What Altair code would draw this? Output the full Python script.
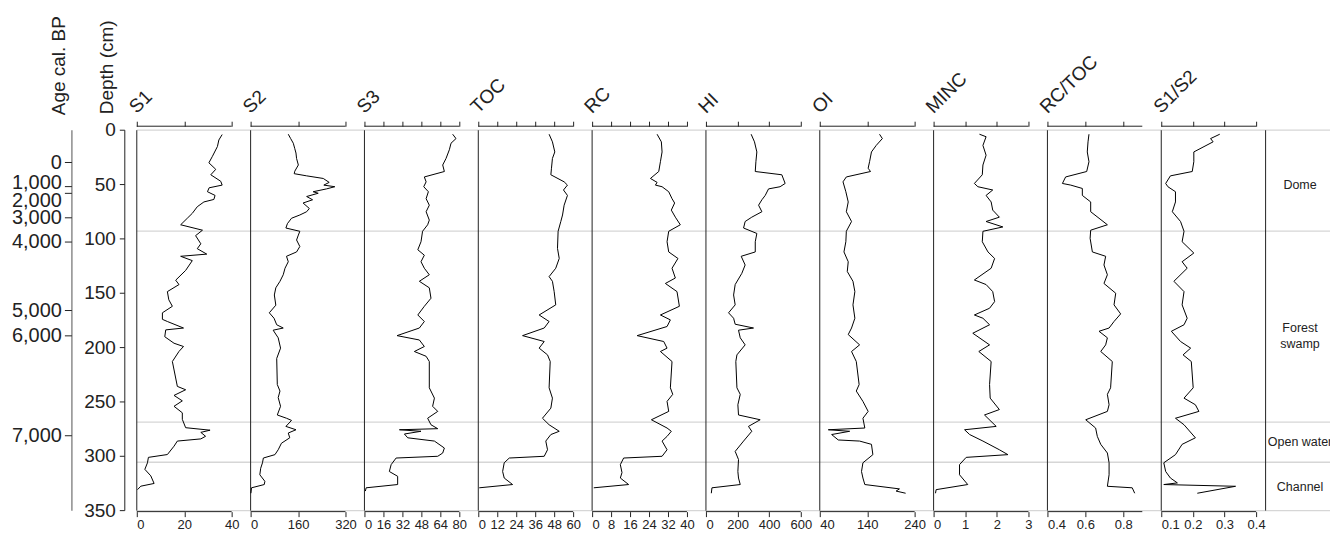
import altair as alt
import pandas as pd

# ---------------- core data: depth (cm) and Rock-Eval parameters ----------------
S1_depth = [4, 9, 15, 24, 30, 36, 41, 47, 50.5, 53, 56.6, 60, 63.7, 66, 70.4, 76.5, 81, 87, 92, 97,
            104.5, 109, 114, 116, 120, 129, 138, 142, 148.5, 156, 162, 168, 174, 176, 182, 183.7, 190, 196, 199, 203.5,
            212.8, 235.7, 238.8, 244, 249, 254, 260, 266, 273.7, 276, 278, 281.6, 284, 286, 290.7, 298.4, 301, 306, 312, 318,
            325, 327.5, 330.7]
S1_val = [36, 34.6, 34, 31.9, 30.4, 33.3, 31.2, 35.4, 36, 30.5, 29.8, 33, 32.5, 28.3, 25.5, 23.4, 21.3, 18.5, 27.7, 24.8,
          27, 25.5, 29.5, 18.5, 23.4, 20.6, 16.4, 17.8, 12.9, 13.5, 15, 10.8, 10.8, 12.9, 19.7, 12.2, 11.8, 15.7, 19.7, 17.8,
          15, 17.1, 20.6, 15.7, 19.2, 15.7, 19.2, 19.2, 20.6, 30.9, 27, 29, 27, 17.1, 15.7, 12.9, 4.9, 4.5, 3.4, 5.9,
          7.3, 1.7, 0.3]

S2_depth = [3.7, 7.7, 12, 17, 21, 26, 32, 37.7, 40, 42, 44.4, 48, 50.5, 52, 54, 56.6, 58, 61, 64, 67,
            72, 75, 78, 81, 86, 90, 93, 96.5, 101, 107, 112, 116, 121, 127, 133, 139, 145, 151.6, 161, 168,
            173, 179, 182, 184, 191, 200.5, 210, 234, 240, 246, 254, 262, 265, 267, 272.5, 275.6, 278.6, 283, 288, 294,
            298.5, 301.6, 306, 311, 317, 323, 326, 329, 334]
S2_val = [127, 135, 144, 149, 153, 155, 161, 149, 147, 189, 245, 265, 247, 284, 256, 211, 228, 189, 209, 177,
          198, 189, 166, 138, 124, 119, 166, 161, 155, 166, 155, 121, 127, 116, 110, 99, 85, 80, 85, 63,
          79, 88, 110, 76, 93, 101, 88, 90, 99, 93, 101, 90, 121, 138, 119, 153, 127, 132, 104, 93,
          82, 43, 40, 34, 31, 48, 46, 3, 1]

S3_depth = [3.7, 7.7, 12, 18, 26, 32, 38, 43, 47.5, 52, 56.6, 63, 69, 75, 82.7, 87, 93, 102.6, 110, 115,
            121, 127, 133, 139, 145, 154.6, 162, 170, 176, 182, 184.6, 189, 193, 199, 203.6, 208, 212.8, 237, 246.5, 254,
            258.7, 265, 271, 274.6, 275.6, 277, 279.5, 283, 286, 292.4, 297, 300, 301.6, 307.7, 314, 318.4, 326, 329, 332]
S3_val = [74.4, 77.2, 73, 71.6, 68.8, 66, 67.4, 50.5, 52, 50, 53.9, 52, 54.7, 52, 54.7, 53.3, 49, 47.7, 45, 50.5,
          47.7, 50.5, 54.7, 46.3, 54.7, 56.1, 50.5, 45, 50.5, 46.3, 39.3, 27.5, 46.3, 50.5, 42.1, 52, 54.7, 54.7, 59, 57.5,
          61.8, 53.3, 56.1, 61.8, 29.5, 47.7, 33.7, 36.5, 59, 67.4, 66, 61.8, 26.7, 22.5, 21, 28, 28, 1.4, 0.8]

TOC_depth = [3.7, 10.7, 20, 26, 35, 41, 47.5, 50.5, 55, 60, 69, 78, 84, 93, 108.7, 118, 127, 134.7, 139, 148.5,
             160.7, 170, 176, 182, 189, 194.4, 200.5, 206.7, 212.8, 237, 246.5, 255.7, 265, 271, 277, 280, 286, 294, 300, 301.6,
             306, 314, 320, 326, 329]
TOC_val = [44.8, 46.9, 48.4, 46.9, 46.3, 45.9, 54.3, 56.4, 53.9, 56.4, 54.3, 53.3, 52.2, 50.5, 50.1, 51.2, 49, 44.8, 46.9, 48,
           49, 38.5, 44.8, 41.7, 28, 41.7, 38.5, 43.8, 45.5, 44.8, 46.9, 45.9, 40.6, 44.8, 51.2, 45.9, 42.7, 43.8, 41.7, 19.6,
           16.4, 15.4, 16.4, 21.7, 0.6]

RC_depth = [3.7, 10.7, 20, 29, 38, 44.4, 48, 50.5, 52, 56.6, 63, 67, 73.5, 80, 87, 93, 102.6, 112, 118, 127,
            136, 141, 148.5, 162, 170, 174.5, 180.6, 189, 194.4, 200.5, 203.6, 212.8, 237, 243, 249.5, 258.7, 266.4, 274, 277, 281.7,
            286, 294, 300, 301.6, 307.7, 315, 320, 326, 329]
RC_val = [27.4, 29.2, 29.5, 28.8, 28.1, 24.6, 27.4, 26.7, 29.5, 32.3, 33.7, 34.8, 33.4, 35.1, 37.2, 32.3, 31.6, 32.3, 36.2, 33.7,
          35.1, 30.9, 35.8, 36.8, 28.8, 33, 31.6, 19, 30.2, 31.6, 28.8, 33.7, 33, 34, 31.6, 32.3, 25, 31.6, 33.4, 31.6,
          29.5, 31.6, 29.5, 13.3, 11.9, 12.6, 11.9, 15.4, 0.7]

HI_depth = [3.7, 10.7, 20, 29, 38, 41, 49, 52, 54, 60, 64, 69, 75, 80, 84, 90, 95, 102.6, 112, 116,
            124, 131.7, 142, 151.6, 160.7, 168, 173, 178.5, 182, 184, 191, 197.5, 206.7, 212.8, 237, 243, 252.6, 262, 266.4, 272.5,
            277, 286, 295.5, 303, 314, 320, 326, 329, 334]
HI_val = [286, 307, 322, 316, 312, 480, 501, 469, 396, 375, 354, 333, 354, 290, 248, 238, 322, 312, 312, 223,
          248, 227, 185, 175, 185, 143, 175, 185, 301, 206, 217, 248, 196, 189, 196, 217, 202, 206, 343, 269,
          290, 238, 185, 206, 202, 206, 217, 38, 34]

OI_depth = [3.7, 7.7, 14, 20, 29, 35, 38, 43, 47.5, 56.6, 66, 75, 84, 93, 102.6, 112, 121, 130, 139, 148.5,
            160.7, 173, 182, 188, 197.5, 203.6, 212.8, 234, 240, 249.5, 258.7, 265, 274, 275.6, 277, 280, 285, 286, 289, 298.5,
            306, 314, 320, 326, 330, 332, 334]
OI_val = [166, 172, 159, 149, 145, 142, 147, 96, 89, 95, 100, 96, 107, 96, 95, 91, 100, 98, 110, 114,
          110, 114, 107, 100, 124, 107, 117, 123, 117, 131, 142, 131, 135, 58, 103, 65, 79, 124, 149, 152,
          131, 128, 131, 135, 208, 201, 221]

MINC_depth = [3.7, 6, 14, 23, 32, 41, 49, 52, 55, 60, 66, 73.5, 80, 84, 89, 93, 102.6, 112, 118, 127,
              137.8, 142, 148.5, 157.7, 163.8, 170, 173, 179, 186.8, 197.5, 203.6, 212.8, 234, 246.5, 257, 262, 272.5, 275.6, 280, 286,
              294, 298.5, 301, 307.7, 317, 326, 330.7, 334]
MINC_val = [1.45, 1.66, 1.56, 1.66, 1.56, 1.54, 1.29, 1.40, 1.87, 1.66, 1.82, 1.87, 2.08, 1.66, 2.19, 1.56, 1.54, 1.72, 1.93, 1.82,
            1.29, 1.66, 1.87, 1.93, 1.77, 1.29, 1.56, 1.77, 1.24, 1.77, 1.43, 1.82, 1.77, 1.79, 2.08, 1.61, 1.98, 0.98, 1.14, 1.56,
            2.08, 2.35, 1.03, 0.82, 0.82, 1.08, 0.08, 0.06]

RCTOC_depth = [3.7, 10.7, 20, 29, 38, 43, 49, 50.5, 53.6, 60, 66, 75, 81, 87, 92, 99.5, 112, 116, 124, 133,
               141, 150, 160.7, 169, 176, 182, 185, 191, 197.5, 203.6, 212.8, 237, 243, 252.6, 258.7, 266.4, 274, 281.7, 289, 297,
               306, 317, 327.6, 329, 334]
RCTOC_val = [0.619, 0.614, 0.61, 0.619, 0.607, 0.496, 0.479, 0.523, 0.584, 0.584, 0.628, 0.628, 0.672, 0.716, 0.628, 0.625, 0.637, 0.707, 0.698, 0.716,
             0.698, 0.76, 0.751, 0.786, 0.751, 0.725, 0.672, 0.716, 0.707, 0.681, 0.742, 0.733, 0.716, 0.725, 0.716, 0.602, 0.654, 0.663, 0.681, 0.716,
             0.725, 0.725, 0.716, 0.847, 0.86]

S1S2_depth = [3.7, 7.7, 10.7, 20, 29, 38, 42, 49, 52, 56.6, 66, 75, 84, 93, 102.6, 113, 121, 127, 139, 148.5,
              160.7, 173, 179, 185, 194.4, 200.5, 206.7, 212.8, 237, 246.5, 252.6, 258.7, 265, 271, 283, 289, 298.5, 306, 314, 320,
              324.5, 326, 327.6, 334]
S1S2_val = [0.285, 0.256, 0.264, 0.203, 0.203, 0.198, 0.129, 0.114, 0.121, 0.145, 0.145, 0.135, 0.161, 0.172, 0.166, 0.203, 0.166, 0.182, 0.140, 0.172,
            0.166, 0.182, 0.172, 0.132, 0.161, 0.193, 0.169, 0.195, 0.201, 0.172, 0.208, 0.219, 0.145, 0.172, 0.208, 0.166, 0.145, 0.108, 0.114, 0.129,
            0.151, 0.108, 0.335, 0.214]

# axis ranges and tick values of each track
panel_names = ["S1", "S2", "S3", "TOC", "RC", "HI", "OI", "MINC", "RC/TOC", "S1/S2"]
panel_depths = [S1_depth, S2_depth, S3_depth, TOC_depth, RC_depth, HI_depth, OI_depth, MINC_depth, RCTOC_depth, S1S2_depth]
panel_values = [S1_val, S2_val, S3_val, TOC_val, RC_val, HI_val, OI_val, MINC_val, RCTOC_val, S1S2_val]
panel_lo = [0, 0, 0, 0, 0, 0, 40, 0, 0.4, 0.1]
panel_hi = [40, 320, 80, 60, 40, 600, 240, 3, 0.9, 0.4]
panel_ticks = [[0, 20, 40], [0, 160, 320], [0, 16, 32, 48, 64, 80], [0, 12, 24, 36, 48, 60],
               [0, 8, 16, 24, 32, 40], [0, 200, 400, 600], [40, 140, 240], [0, 1, 2, 3],
               [0.4, 0.6, 0.8], [0.1, 0.2, 0.3, 0.4]]
panel_fmt = ["d", "d", "d", "d", "d", "d", "d", "d", ".1f", ".1f"]

# age model and depth scale on the left
age_labels = ["0", "1,000", "2,000", "3,000", "4,000", "5,000", "6,000", "7,000"]
age_tick_depth = [29.7, 51.9, 58.1, 80.6, 102.9, 165.9, 189.2, 281.1]
age_label_depth = [30.6, 48.2, 65.0, 80.6, 102.9, 165.9, 189.2, 281.1]
depth_ticks = [0, 50, 100, 150, 200, 250, 300, 350]

# depositional zones
zone_bounds = [0, 92.8, 268.5, 305.5, 350]
zone_names = ["Dome", "Forest\nswamp", "Open water", "Channel"]
zone_label_depth = [50.5, 182, 287, 328]

# ---------------- layout / style ----------------
H = 381
TOP = 130
AXIS_SPAN = 95.0
PANEL_W = [114] * 9 + [104]
LEFT_W = 136
ZONE_W = 65
FONT = "Liberation Sans"
INK = "#222222"
GRID = "#d6d6d6"

# depth increases downwards
y_scale = alt.Scale(domain=[0, 350], nice=False, zero=False, reverse=True)
zone_df = pd.DataFrame({"depth": zone_bounds})


def zone_rules(w):
    return alt.Chart(zone_df).mark_rule(color=GRID, strokeWidth=1.3).encode(
        y=alt.Y("depth:Q", scale=y_scale, axis=None),
        x=alt.value(0), x2=alt.value(w))


def track(i):
    w = PANEL_W[i]
    lo, hi = panel_lo[i], panel_hi[i]
    ext = lo + (hi - lo) * w / AXIS_SPAN
    xs = alt.Scale(domain=[lo, ext], nice=False, zero=False)
    df = pd.DataFrame({"depth": panel_depths[i], "value": panel_values[i]})
    meta = pd.DataFrame({"lo": [lo], "hi": [hi], "name": [panel_names[i]]})

    left_line = alt.Chart(meta).mark_rule(color=INK, strokeWidth=1).encode(
        x=alt.X("lo:Q", scale=xs, axis=None), y=alt.value(0), y2=alt.value(H))
    top_axis = alt.Chart(meta).mark_rule(color=INK, strokeWidth=1).encode(
        x=alt.X("lo:Q", scale=xs, title=None,
                axis=alt.Axis(orient="top", values=panel_ticks[i], labels=False, domain=False,
                              tickSize=5, tickColor=INK, tickWidth=1, offset=4, grid=False)),
        x2="hi:Q", y=alt.value(-4))
    bottom_axis = alt.Chart(meta).mark_rule(color=INK, strokeWidth=1).encode(
        x=alt.X("lo:Q", scale=xs, title=None,
                axis=alt.Axis(orient="bottom", values=panel_ticks[i], domain=False, tickSize=5,
                              tickColor=INK, tickWidth=1, offset=1, grid=False, format=panel_fmt[i],
                              labelFont=FONT, labelFontSize=13, labelColor=INK, labelPadding=2,
                              labelOverlap=False)),
        x2="hi:Q", y=alt.value(H + 1))
    curve = alt.Chart(df).mark_line(color="black", strokeWidth=1).encode(
        x=alt.X("value:Q", scale=xs, axis=None),
        y=alt.Y("depth:Q", scale=y_scale, axis=None),
        order=alt.Order("depth:Q"))
    title = alt.Chart(meta).mark_text(angle=315, align="left", baseline="alphabetic",
                                      fontSize=19, font=FONT, color=INK).encode(
        x=alt.X("lo:Q", scale=xs, axis=None), y=alt.value(-16), text="name:N")

    return alt.layer(zone_rules(w), left_line, top_axis, bottom_axis, curve, title).resolve_axis(
        x="independent").properties(width=w, height=H)


# left block: age axis and depth axis
age_df = pd.DataFrame({"age": age_labels, "tick": age_tick_depth, "pos": age_label_depth})
depth_df = pd.DataFrame({"depth": depth_ticks, "label": [str(d) for d in depth_ticks]})
span_df = pd.DataFrame({"a": [0], "b": [350]})
title_df = pd.DataFrame({"age_title": ["Age cal. BP"], "depth_title": ["Depth (cm)"]})

# white hairline marking the top-left corner of the figure
corner = alt.Chart(span_df).mark_rule(color="white", strokeWidth=1).encode(
    x=alt.value(0), x2=alt.value(2), y=alt.value(-TOP + 0.5))
age_line = alt.Chart(span_df).mark_rule(color="#8c8c8c", strokeWidth=1.5).encode(
    x=alt.value(71), y=alt.Y("a:Q", scale=y_scale, axis=None), y2="b:Q")
age_ticks = alt.Chart(age_df).mark_rule(color=INK, strokeWidth=1).encode(
    x=alt.value(64), x2=alt.value(71), y=alt.Y("tick:Q", scale=y_scale, axis=None))
age_text = alt.Chart(age_df).mark_text(align="right", baseline="middle", fontSize=20,
                                       font=FONT, color=INK).encode(
    x=alt.value(61), y=alt.Y("pos:Q", scale=y_scale, axis=None), text="age:N")
depth_line = alt.Chart(span_df).mark_rule(color=INK, strokeWidth=1).encode(
    x=alt.value(124), y=alt.Y("a:Q", scale=y_scale, axis=None), y2="b:Q")
depth_tick_marks = alt.Chart(depth_df).mark_rule(color=INK, strokeWidth=1).encode(
    x=alt.value(119), x2=alt.value(124), y=alt.Y("depth:Q", scale=y_scale, axis=None))
depth_text = alt.Chart(depth_df).mark_text(align="right", baseline="middle", fontSize=19,
                                           font=FONT, color=INK).encode(
    x=alt.value(115), y=alt.Y("depth:Q", scale=y_scale, axis=None), text="label:N")
age_title = alt.Chart(title_df).mark_text(angle=270, align="left", baseline="middle", fontSize=19,
                                          font=FONT, color=INK).encode(
    x=alt.value(58), y=alt.value(-15), text="age_title:N")
depth_title = alt.Chart(title_df).mark_text(angle=270, align="left", baseline="middle", fontSize=19,
                                            font=FONT, color=INK).encode(
    x=alt.value(106), y=alt.value(-16), text="depth_title:N")

left_block = alt.layer(corner, age_line, age_ticks, age_text, depth_line, depth_tick_marks, depth_text,
                       age_title, depth_title).properties(width=LEFT_W, height=H)

# right block: zone names
zone_lbl_df = pd.DataFrame({"label": zone_names, "depth": zone_label_depth})
zone_border = alt.Chart(span_df).mark_rule(color=INK, strokeWidth=1).encode(
    x=alt.value(0.5), y=alt.Y("a:Q", scale=y_scale, axis=None), y2="b:Q")
zone_text = alt.Chart(zone_lbl_df).mark_text(align="center", baseline="middle", fontSize=12.5,
                                             font=FONT, color=INK, lineBreak="\n", lineHeight=16,
                                             clip=True).encode(
    x=alt.value(35), y=alt.Y("depth:Q", scale=y_scale, axis=None), text="label:N")
zone_block = alt.layer(zone_rules(ZONE_W), zone_border, zone_text).properties(width=ZONE_W, height=H)

chart = alt.hconcat(left_block, *[track(i) for i in range(10)], zone_block,
                    spacing=0, bounds="flush").properties(
    autosize=alt.AutoSizeParams(type="pad"),
    padding={"left": 0, "top": 0, "right": 0, "bottom": 0},
).configure_view(strokeWidth=0)

chart.save("out.html", embed_options={"renderer": "svg", "actions": False})
